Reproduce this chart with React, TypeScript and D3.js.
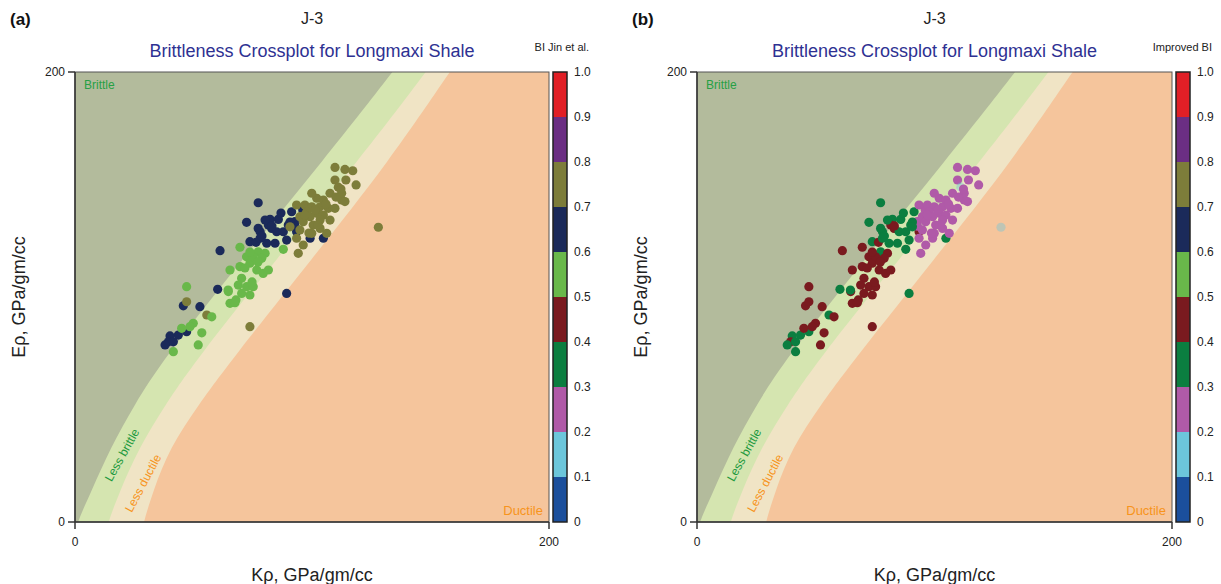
import React, { useEffect, useRef } from "react";
import * as d3 from "d3";

// Kρ and Eρ (GPa/gm/cc) of every sample, same points in both panels
const kRho = [
  77.3, 72.4, 82.3, 85.8, 81.6, 77.3, 78.1, 83, 85.1, 87.9, 91.4, 96.1, 92.8, 93.5, 89.3, 84.4, 80.9, 73.8,
  76.4, 61.2, 104.8, 99.2, 89.3, 60.2, 52.7, 45.7, 47.1, 43.6, 40.1, 39.4, 38, 41.5, 90, 92.8, 78.1,
  80.2, 83.1, 90.7, 86.9, 78.9,
  109.7, 113.9, 117.2, 109.7, 118.6, 111.1, 107.6, 102, 104.8, 112.5, 113.9, 93.5, 97, 99.9, 103.4, 106.9,
  109.7, 97.8, 102, 104.8, 94.9, 99.2, 103.4, 96.3, 100.5, 90.7, 94.9, 103.4, 99.9, 106.2, 96.3, 93.5, 94.2,
  128, 112.5, 99.9, 73.8, 47.1, 55.6,
  97, 101.3, 105.9, 110.1, 112.2, 107.6, 114.3, 102.5, 98.7,
  69.6, 72.4, 77.3, 80.2, 73.8, 76.7, 79.4, 81.6, 65.4, 70.3, 68.9, 72.4, 75.2, 73.8, 64.7, 70.3, 65.4, 67.5,
  47.1, 57.7, 49.9, 48.5, 53.5, 45, 52, 41.5, 87.9, 78.8, 75.2, 69.6,
  73.8, 77.2, 71.7, 74.7, 67.9, 64.6,
];
const eRho = [
  141.9, 133.2, 134.5, 134.5, 132, 130.5, 129, 130.5, 129, 129, 137.9, 138.7, 133.5, 129, 125.3, 123.9, 123.9,
  124.6, 124.3, 120.6, 126.1, 126.1, 101.6, 103.4, 95.7, 96.1, 84.6, 83.1, 82.7, 80.1, 78.7, 80.1, 132, 131.5,
  126.1,
  134.2, 131.6, 133.3, 137.3, 127.1,
  157.6, 156.7, 156.1, 152, 149.8, 148.8, 146.1, 143.9, 143.1, 143.1, 142.4, 140.9, 140.9, 140.1, 140.1, 139.4,
  139.4, 137.9, 137.2, 136.4, 135.7, 135.7, 134.2, 133.5, 132, 131.2, 129.8, 130.5, 128.3, 128.3, 123.1, 126.1,
  119.4, 131, 146.1, 146.1, 86.8, 97.9, 92,
  136.4, 138.7, 141.3, 144.4, 148, 134.2, 152, 132, 128.4,
  122.1, 117.9, 120.1, 119.4, 115, 112, 110.5, 112, 112, 108.3, 105.3, 104.6, 104.6, 100.9, 102.4, 101.6, 97.2,
  97.5, 104.6, 91.2, 88.3, 86.8, 84.1, 86.1, 78.7, 75.7, 121.2, 117.2, 117.9, 113.5,
  120, 115.6, 112.9, 106.7, 98.7, 103.1,
];
// brittleness index after Jin et al. (panel a)
const biJin = [
  0.65, 0.65, 0.65, 0.65, 0.65, 0.65, 0.65, 0.65, 0.65, 0.65, 0.65, 0.65, 0.65, 0.65, 0.65, 0.65, 0.65, 0.65,
  0.65, 0.65, 0.65, 0.65, 0.65, 0.65, 0.65, 0.65, 0.65, 0.65, 0.65, 0.65, 0.65, 0.65, 0.65, 0.65, 0.65,
  0.65, 0.65, 0.65, 0.65, 0.65,
  0.75, 0.75, 0.75, 0.75, 0.75, 0.75, 0.75, 0.75, 0.75, 0.75, 0.75, 0.75, 0.75, 0.75, 0.75, 0.75,
  0.75, 0.75, 0.75, 0.75, 0.75, 0.75, 0.75, 0.75, 0.75, 0.75, 0.75, 0.75, 0.75, 0.75, 0.75, 0.75, 0.75,
  0.75, 0.75, 0.75, 0.75, 0.75, 0.75,
  0.75, 0.75, 0.75, 0.75, 0.75, 0.75, 0.75, 0.75, 0.75,
  0.55, 0.55, 0.55, 0.55, 0.55, 0.55, 0.55, 0.55, 0.55, 0.55, 0.55, 0.55, 0.55, 0.55, 0.55, 0.55, 0.55, 0.55,
  0.55, 0.55, 0.55, 0.55, 0.55, 0.55, 0.55, 0.55, 0.55, 0.55, 0.55, 0.55,
  0.55, 0.55, 0.55, 0.55, 0.55, 0.55,
];
// improved brittleness index (panel b)
const biImproved = [
  0.35, 0.35, 0.35, 0.35, 0.45, 0.35, 0.35, 0.45, 0.35, 0.35, 0.35, 0.25, 0.25, 0.45, 0.35, 0.35, 0.35, 0.35,
  0.45, 0.45, 0.35, 0.25, 0.35, 0.35, 0.45, 0.45, 0.35, 0.35, 0.35, 0.45, 0.35, 0.35, 0.35, 0.25, 0.35,
  0.35, 0.45, 0.35, 0.35, 0.35,
  0.25, 0.25, 0.25, 0.25, 0.25, 0.15, 0.25, 0.25, 0.25, 0.25, 0.25, 0.25, 0.25, 0.25, 0.25, 0.25,
  0.25, 0.25, 0.25, 0.25, 0.25, 0.25, 0.25, 0.25, 0.25, 0.35, 0.25, 0.25, 0.25, 0.25, 0.25, 0.25, 0.25,
  0.15, 0.25, 0.25, 0.45, 0.45, 0.35,
  0.25, 0.25, 0.25, 0.25, 0.25, 0.25, 0.25, 0.25, 0.25,
  0.45, 0.45, 0.35, 0.45, 0.45, 0.45, 0.45, 0.45, 0.45, 0.45, 0.45, 0.45, 0.45, 0.45, 0.45, 0.45, 0.45, 0.45,
  0.45, 0.45, 0.45, 0.45, 0.45, 0.45, 0.45, 0.35, 0.35, 0.45, 0.45, 0.45,
  0.45, 0.45, 0.45, 0.45, 0.45, 0.35,
];

// colour bar classes
const classBreaks = [0.1, 0.2, 0.3, 0.4, 0.5, 0.6, 0.7, 0.8, 0.9];
const classColors = [
  "#1b4f9c", "#6cc6db", "#b05aa8", "#0b7e40", "#7a1a1f",
  "#69b84a", "#1b2a5a", "#7d7d3a", "#6b2e83", "#e11f26",
];
const barTicks = ["0", "0.1", "0.2", "0.3", "0.4", "0.5", "0.6", "0.7", "0.8", "0.9", "1.0"];

// zone edges [Kρ, Eρ]
const brittleEdge = [[1, 0], [7, 14], [15, 33], [25, 52], [37, 72], [70, 116], [105, 161], [134, 200]];
const lessBrittleEdge = [[14, 0], [19, 14], [27, 33], [38, 52], [51, 72], [85, 117], [120, 161], [148, 200]];
const lessDuctileEdge = [[29, 0], [33, 14], [40, 33], [52, 52], [66, 72], [100, 117], [133, 161], [158, 200]];

const FONT = "'Liberation Sans', Arial, sans-serif";

export default function App() {
  const ref = useRef<SVGSVGElement>(null);

  useEffect(() => {
    const svg = d3.select(ref.current);
    svg.selectAll("*").remove();

    const top = 72, bottom = 522;
    const color = d3.scaleThreshold<number, string>().domain(classBreaks).range(classColors);

    const panels = [
      { left: 75, right: 549, tag: "(a)", barTitle: "BI Jin et al.", values: biJin, id: "a" },
      { left: 697, right: 1172, tag: "(b)", barTitle: "Improved BI", values: biImproved, id: "b" },
    ];

    panels.forEach((p) => {
      const x = d3.scaleLinear().domain([0, 200]).range([p.left, p.right]);
      const y = d3.scaleLinear().domain([0, 200]).range([bottom, top]);
      const cx = (p.left + p.right) / 2;
      const g = svg.append("g").style("font-family", FONT);

      g.append("clipPath").attr("id", "clip" + p.id)
        .append("rect").attr("x", p.left).attr("y", top)
        .attr("width", p.right - p.left).attr("height", bottom - top);

      const zones = g.append("g").attr("clip-path", `url(#clip${p.id})`);
      zones.append("rect").attr("x", p.left).attr("y", top)
        .attr("width", p.right - p.left).attr("height", bottom - top).attr("fill", "#b3bb9c");

      const edge = d3.line<number[]>().x((d) => x(d[0])).y((d) => y(d[1])).curve(d3.curveBasis);
      const zone = (pts: number[][]) => {
        const ext = [[pts[0][0] - 1, -5], ...pts, [pts[pts.length - 1][0] + 5, 207]];
        return edge(ext) + `L${x(210)},${y(210)}L${x(210)},${y(-10)}Z`;
      };
      zones.append("path").attr("d", zone(brittleEdge)).attr("fill", "#d5e5b0");
      zones.append("path").attr("d", zone(lessBrittleEdge)).attr("fill", "#f0e4c5");
      zones.append("path").attr("d", zone(lessDuctileEdge)).attr("fill", "#f5c59c");

      // points
      zones.selectAll("circle").data(kRho).enter().append("circle")
        .attr("cx", (d) => x(d))
        .attr("cy", (_d, i) => y(eRho[i]))
        .attr("r", 4.6)
        .attr("fill", (_d, i) => color(p.values[i]))
        .attr("fill-opacity", (_d, i) => (color(p.values[i]) === classColors[1] ? 0.4 : 1));

      // zone labels
      g.append("text").attr("x", p.left + 9).attr("y", top + 17).attr("font-size", 12)
        .attr("fill", "#27a045").text("Brittle");
      g.append("text").attr("x", p.right - 6).attr("y", bottom - 7).attr("font-size", 13)
        .attr("text-anchor", "end").attr("fill", "#f7941d").text("Ductile");
      g.append("text").attr("transform", `translate(${x(19.8)},${y(29.8)}) rotate(-61)`)
        .attr("text-anchor", "middle").attr("dy", "0.35em").attr("font-size", 12)
        .attr("fill", "#1f9a3f").text("Less brittle");
      g.append("text").attr("transform", `translate(${x(28.7)},${y(17.3)}) rotate(-62)`)
        .attr("text-anchor", "middle").attr("dy", "0.35em").attr("font-size", 12)
        .attr("fill", "#f7941d").text("Less ductile");

      // frame
      g.append("rect").attr("x", p.left).attr("y", top)
        .attr("width", p.right - p.left).attr("height", bottom - top)
        .attr("fill", "none").attr("stroke", "#555").attr("stroke-width", 1);
      g.append("line").attr("x1", p.left).attr("x2", p.left).attr("y1", top).attr("y2", bottom + 7)
        .attr("stroke", "#333").attr("stroke-width", 1.5);
      g.append("line").attr("x1", p.left - 7).attr("x2", p.right).attr("y1", bottom).attr("y2", bottom)
        .attr("stroke", "#333").attr("stroke-width", 1.5);
      g.append("line").attr("x1", p.left - 7).attr("x2", p.left).attr("y1", top).attr("y2", top)
        .attr("stroke", "#333").attr("stroke-width", 1.5);
      g.append("line").attr("x1", p.right).attr("x2", p.right).attr("y1", bottom).attr("y2", bottom + 7)
        .attr("stroke", "#333").attr("stroke-width", 1.5);

      // tick labels
      [0, 200].forEach((v) => {
        g.append("text").attr("x", p.left - 10).attr("y", y(v)).attr("dy", "0.35em")
          .attr("text-anchor", "end").attr("font-size", 12).attr("fill", "#222").text(v);
        g.append("text").attr("x", x(v)).attr("y", bottom + 24)
          .attr("text-anchor", "middle").attr("font-size", 12).attr("fill", "#222").text(v);
      });

      // axis titles
      g.append("text").attr("transform", `translate(${p.left - 50},${(top + bottom) / 2}) rotate(-90)`)
        .attr("text-anchor", "middle").attr("font-size", 18).attr("fill", "#222").text("Eρ, GPa/gm/cc");
      g.append("text").attr("x", cx).attr("y", 581).attr("text-anchor", "middle")
        .attr("font-size", 18).attr("fill", "#222").text("Kρ, GPa/gm/cc");

      // headings
      g.append("text").attr("x", p.left - 65).attr("y", 25).attr("font-size", 17)
        .attr("font-weight", "bold").attr("fill", "#111").text(p.tag);
      g.append("text").attr("x", cx).attr("y", 24).attr("text-anchor", "middle")
        .attr("font-size", 16).attr("fill", "#222").text("J-3");
      g.append("text").attr("x", cx).attr("y", 57).attr("text-anchor", "middle")
        .attr("font-size", 18).attr("fill", "#2e3192").text("Brittleness Crossplot for Longmaxi Shale");

      // colour bar
      const bar = d3.scaleLinear().domain([0, 1]).range([bottom, top]);
      const bx = p.right + 4, bw = 14;
      const edges = [0, ...classBreaks, 1];
      g.selectAll("rect.cls").data(classColors).enter().append("rect").attr("class", "cls")
        .attr("x", bx).attr("width", bw)
        .attr("y", (_d, i) => bar(edges[i + 1]))
        .attr("height", (_d, i) => bar(edges[i]) - bar(edges[i + 1]))
        .attr("fill", (d) => d);
      g.append("rect").attr("x", bx).attr("y", top).attr("width", bw).attr("height", bottom - top)
        .attr("fill", "none").attr("stroke", "#222").attr("stroke-width", 1.5);
      g.selectAll("text.bt").data(barTicks).enter().append("text").attr("class", "bt")
        .attr("x", bx + bw + 7).attr("y", (_d, i) => bar(i / 10)).attr("dy", "0.35em")
        .attr("font-size", 12).attr("fill", "#222").text((d) => d);
      g.append("text").attr("x", p.right + 40).attr("y", 51).attr("text-anchor", "end")
        .attr("font-size", 11).attr("fill", "#222").text(p.barTitle);
    });
  }, []);

  return (
    <svg
      ref={ref}
      width={1221}
      height={584}
      style={{ position: "absolute", left: 0, top: 0, background: "#fff" }}
    />
  );
}
